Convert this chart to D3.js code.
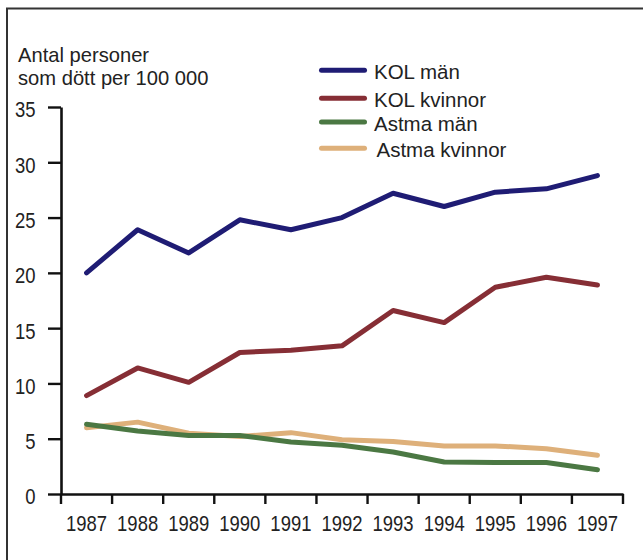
<!DOCTYPE html>
<html>
<head>
<meta charset="utf-8">
<script src="https://cdn.jsdelivr.net/npm/d3@7"></script>
<style>
  html, body { margin: 0; padding: 0; background: #fff; }
  svg { display: block; }
  text { font-family: "Liberation Sans", Arial, sans-serif; fill: #222; }
</style>
</head>
<body>
<svg id="chart" width="643" height="560"></svg>
<script>
const years = [1987, 1988, 1989, 1990, 1991, 1992, 1993, 1994, 1995, 1996, 1997];
const seriesNames = ["KOL män", "KOL kvinnor", "Astma män", "Astma kvinnor"];
const kolMan = [20.0, 23.9, 21.8, 24.8, 23.9, 25.0, 27.2, 26.0, 27.3, 27.6, 28.8];
const kolKvinnor = [8.9, 11.4, 10.1, 12.8, 13.0, 13.4, 16.6, 15.5, 18.7, 19.6, 18.9];
const astmaMan = [6.3, 5.7, 5.3, 5.3, 4.7, 4.4, 3.8, 2.9, 2.85, 2.85, 2.2];
const astmaKvinnor = [6.0, 6.5, 5.5, 5.2, 5.55, 4.9, 4.75, 4.35, 4.35, 4.1, 3.5];
const yTicks = [0, 5, 10, 15, 20, 25, 30, 35];
const titleLines = ["Antal personer", "som dött per 100 000"];
const colors = ["#1f1c74", "#862e35", "#4b7843", "#deb07a"];

const seriesValues = [kolMan, kolKvinnor, astmaMan, astmaKvinnor];
const FONT = "\"Liberation Sans\", Arial, sans-serif";

function condense(sel, sx) {
  sel.each(function () {
    const t = d3.select(this);
    const xv = +t.attr("x") || 0;
    t.attr("x", xv / sx).attr("transform", `scale(${sx},1)`);
  });
}

const svg = d3.select("#chart");

// frame
svg.append("path")
  .attr("d", "M7,560 V8.5 H643")
  .attr("fill", "none")
  .attr("stroke", "#333")
  .attr("stroke-width", 2);

const x = d3.scaleBand().domain(years).range([61, 623]).padding(0);
const y = d3.scaleLinear().domain([0, 35]).range([494, 107]);

// title
const title = svg.append("g").selectAll("text")
  .data(titleLines)
  .join("text")
  .attr("x", 18)
  .attr("y", (d, i) => 61.7 + i * 23.5)
  .attr("font-size", 21)
  .text(d => d);
condense(title, 0.96);

// y axis
const yAxis = svg.append("g")
  .attr("transform", "translate(61,0)")
  .call(d3.axisLeft(y).tickValues(yTicks).tickSize(13).tickSizeOuter(0).tickPadding(12.5).tickFormat(d3.format("d")));
yAxis.select(".domain").attr("stroke", "#111").attr("stroke-width", 2.6);
yAxis.selectAll(".tick line").attr("stroke", "#111").attr("stroke-width", 2.4);
const yText = yAxis.selectAll(".tick text")
  .attr("font-size", 22)
  .attr("font-family", FONT)
  .attr("fill", "#222")
  .attr("dy", "0.45em");
condense(yText, 0.84);

// x axis
const xAxis = svg.append("g")
  .attr("transform", "translate(0,494)")
  .call(d3.axisBottom(x).tickSize(0).tickSizeOuter(0).tickFormat(d3.format("d")));
xAxis.select(".domain").attr("stroke", "#111").attr("stroke-width", 2.6);
const xText = xAxis.selectAll(".tick text")
  .attr("font-size", 22)
  .attr("font-family", FONT)
  .attr("fill", "#222")
  .attr("y", 36.7)
  .attr("dy", "0");
condense(xText, 0.84);
// boundary ticks
const bounds = years.map(d => x(d)).concat([x(years[years.length - 1]) + x.bandwidth()]);
xAxis.append("g").selectAll("line")
  .data(bounds)
  .join("line")
  .attr("x1", d => d).attr("x2", d => d)
  .attr("y1", 0).attr("y2", 10)
  .attr("stroke", "#111")
  .attr("stroke-width", 2.4);

// lines
const line = d3.line()
  .x((d, i) => x(years[i]) + x.bandwidth() / 2)
  .y(d => y(d));

const drawOrder = [0, 1, 3, 2];
svg.append("g").selectAll("path")
  .data(drawOrder)
  .join("path")
  .attr("d", k => line(seriesValues[k]))
  .attr("fill", "none")
  .attr("stroke", k => colors[k])
  .attr("stroke-width", 5)
  .attr("stroke-linejoin", "round")
  .attr("stroke-linecap", "round");

// legend
const legendY = [70.3, 98.3, 122, 148.3];
const legendTextX = [374, 374, 374, 376.5];
const lg = svg.append("g");
seriesNames.forEach((name, i) => {
  lg.append("line")
    .attr("x1", 321.5).attr("x2", 364.5)
    .attr("y1", legendY[i]).attr("y2", legendY[i])
    .attr("stroke", colors[i])
    .attr("stroke-width", 5)
    .attr("stroke-linecap", "round");
  lg.append("text")
    .attr("x", legendTextX[i])
    .attr("y", legendY[i] + 9)
    .attr("font-size", 20.5)
    .text(name);
});
</script>
</body>
</html>
